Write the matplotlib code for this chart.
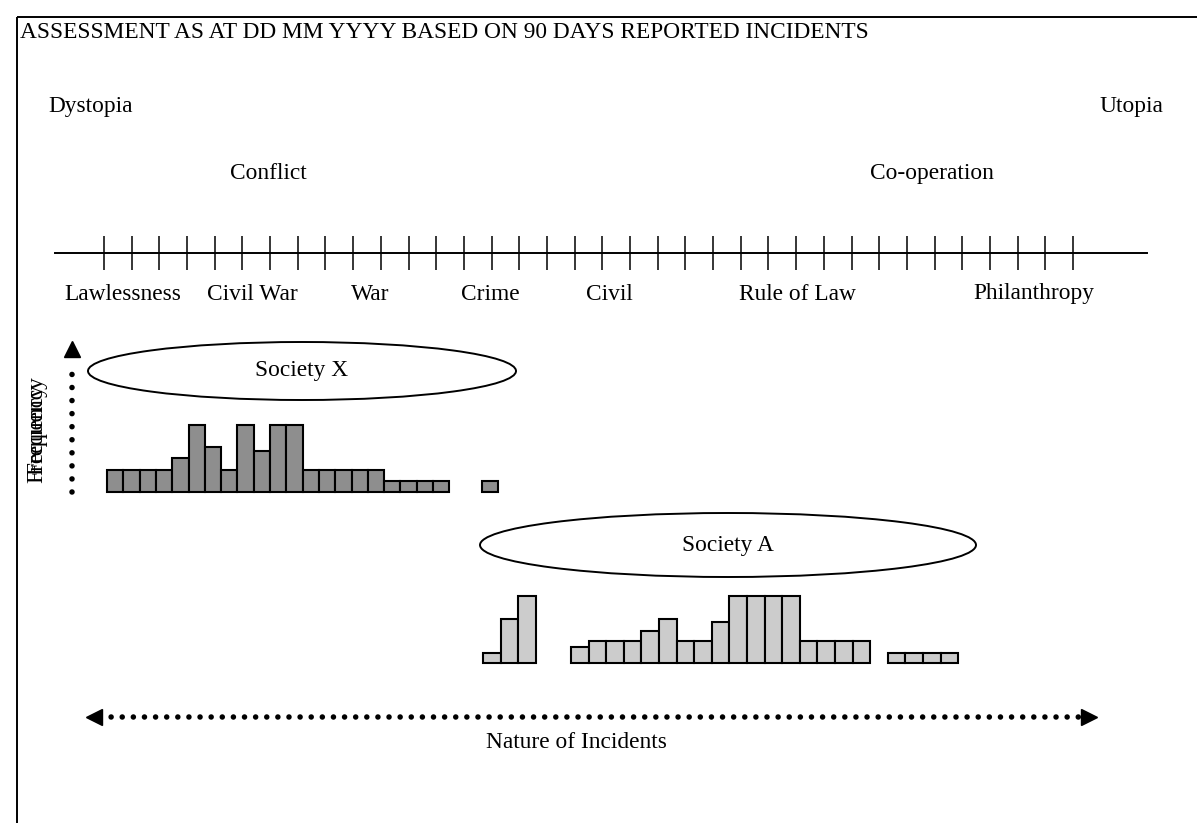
# Incident assessment: Dystopia -> Utopia scale with two society profiles

import numpy as np
import matplotlib.pyplot as plt
from matplotlib.patches import Ellipse, Rectangle

plt.rcParams['font.family'] = ['Liberation Serif', 'DejaVu Serif']

W = 1197
H = 823

title = 'ASSESSMENT AS AT DD MM YYYY BASED ON 90 DAYS REPORTED INCIDENTS'
scale_labels = ['Lawlessness', 'Civil War', 'War', 'Crime', 'Civil',
                'Rule of Law', 'Philanthropy']
n_scale_ticks = 36

# frequency per incident slot (slot index, count)
x_slots = list(range(21)) + [23]
x_freq = [2, 2, 2, 2, 3, 6, 4, 2, 6, 3.7, 6, 6, 2, 2, 2, 2, 2, 1, 1, 1, 1, 1]

a_slots = [0, 1, 2] + list(range(5, 22)) + [23, 24, 25, 26]
a_freq = [0.9, 3.9, 6,
          1.4, 2, 2, 2, 2.9, 3.9, 2, 2, 3.7, 6, 6, 6, 6, 2, 2, 2, 2,
          0.9, 0.9, 0.9, 0.9]

fig = plt.figure(figsize=(W / 100, H / 100), dpi=100)
ax = fig.add_axes([0, 0, 1, 1])
ax.set_xlim(0, W)
ax.set_ylim(H, 0)
ax.axis('off')

fs = 16.8

# frame (left + top)
ax.add_patch(Rectangle((17, 17), 1300, 900, fill=False, ec='black', lw=1.4))

ax.text(20, 32, title, fontsize=fs, va='center', ha='left')
ax.text(48, 106, 'Dystopia', fontsize=fs, va='center', ha='left')
ax.text(1163, 106, 'Utopia', fontsize=fs, va='center', ha='right')
ax.text(268, 173, 'Conflict', fontsize=fs, va='center', ha='center')
ax.text(932, 173, 'Co-operation', fontsize=fs, va='center', ha='center')

# the scale line with ticks
def px_box(x0, y0, x1, y1):
    return [x0 / W, 1 - y1 / H, (x1 - x0) / W, (y1 - y0) / H]

first, last = 104, 1073
step = (last - first) / (n_scale_ticks - 1)
sax = fig.add_axes(px_box(55, 240, 1147, 253))
sax.set_xlim(-(first - 55) / step, n_scale_ticks - 1 + (1147 - last) / step)
sax.set_ylim(0, 1)
sax.patch.set_alpha(0)
for s in ['top', 'left', 'right']:
    sax.spines[s].set_visible(False)
sax.spines['bottom'].set_linewidth(1.4)
sax.set_yticks([])
sax.set_xticks(range(n_scale_ticks))
sax.set_xticklabels([])
sax.tick_params(axis='x', direction='inout', length=25, width=1.1)

label_x = [123, 252, 370, 490, 609, 797, 1034]
for lx, lab in zip(label_x, scale_labels):
    ax.text(lx, 294, lab, fontsize=fs, va='center', ha='center')

# ellipses
ax.add_patch(Ellipse((302, 371), 428, 58, fill=False, ec='black', lw=1.4))
ax.text(302, 370, 'Society X', fontsize=fs, va='center', ha='center')
ax.add_patch(Ellipse((728, 545), 496, 64, fill=False, ec='black', lw=1.4))
ax.text(728, 545, 'Society A', fontsize=fs, va='center', ha='center')

# frequency axis
ax.plot([72, 72], [492, 362], color='black', lw=4,
        linestyle=(0, (0.001, 2.35)), dash_capstyle='round')
ax.plot([72], [349], marker='^', color='black', markersize=11)
ax.text(37, 426, 'Frequency', fontsize=fs, rotation=90, va='center', ha='center')
ax.text(37, 434, 'Frequency', fontsize=fs, rotation=90, va='center', ha='center')

# nature of incidents axis
ax.plot([100, 1083], [717, 717], color='black', lw=4,
        linestyle=(0, (0.001, 2.0)), dash_capstyle='round')
ax.plot([94], [717], marker='<', color='black', markersize=11)
ax.plot([1089], [717], marker='>', color='black', markersize=11)
ax.text(486, 743, 'Nature of Incidents', fontsize=fs, va='center', ha='left')

# Society X histogram
xw = 16.3
bx = fig.add_axes(px_box(107, 492 - 67.2, 107 + 24 * xw, 492))
bx.bar(x_slots, x_freq, width=1, align='edge', color='#8e8e8e',
       edgecolor='black', linewidth=1.5, clip_on=False)
bx.set_xlim(0, 24)
bx.set_ylim(0, 6)
bx.axis('off')

# Society A histogram
aw = 17.6
bax = fig.add_axes(px_box(483, 663 - 67.2, 483 + 27 * aw, 663))
bax.bar(a_slots, a_freq, width=1, align='edge', color='#cccccc',
        edgecolor='black', linewidth=1.5, clip_on=False)
bax.set_xlim(0, 27)
bax.set_ylim(0, 6)
bax.axis('off')

plt.savefig('out.png', dpi=100)
